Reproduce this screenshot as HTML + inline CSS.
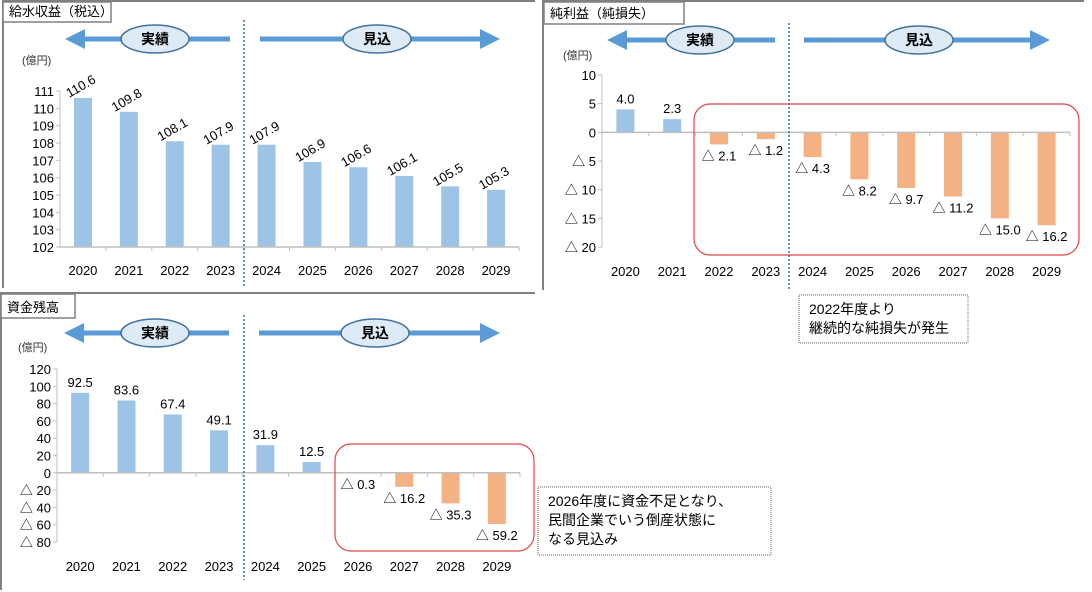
<!DOCTYPE html>
<html><head><meta charset="utf-8">
<style>
body{margin:0;background:#fff;}
svg{display:block;font-family:"Liberation Sans","Noto Sans CJK JP",sans-serif;}
</style></head>
<body>
<svg id="s" width="1092" height="592" viewBox="0 0 1092 592" xmlns="http://www.w3.org/2000/svg">
<defs>
<marker id="ah" markerWidth="4" markerHeight="4" refX="2" refY="2" orient="auto" markerUnits="strokeWidth"><path d="M0,0 L4,2 L0,4 Z" fill="#5b9bd5"/></marker>
</defs>
</svg>
<script>
const years = ["2020","2021","2022","2023","2024","2025","2026","2027","2028","2029"];
const revenueValues = [110.6,109.8,108.1,107.9,107.9,106.9,106.6,106.1,105.5,105.3];
const revenueTicks = [102,103,104,105,106,107,108,109,110,111];
const profitValues = [4.0,2.3,-2.1,-1.2,-4.3,-8.2,-9.7,-11.2,-15.0,-16.2];
const profitTicks = [10,5,0,-5,-10,-15,-20];
const fundValues = [92.5,83.6,67.4,49.1,31.9,12.5,-0.3,-16.2,-35.3,-59.2];
const fundTicks = [120,100,80,60,40,20,0,-20,-40,-60,-80];

const svg = document.getElementById('s');
const NS = 'http://www.w3.org/2000/svg';
function mk(tag, attrs, parent, text){
  const e = document.createElementNS(NS, tag);
  for (const k in attrs) e.setAttribute(k, attrs[k]);
  if (text !== undefined) e.textContent = text;
  (parent || svg).appendChild(e);
  return e;
}
function fmt(v, dec){
  const a = Math.abs(v).toFixed(dec);
  return v < 0 ? '△ ' + a : a;
}

function chart(cfg){
  const g = mk('g', {});
  
  
  // frame
  const fr = mk('path', {d:`M${cfg.frame[0]},${cfg.frame[3]} L${cfg.frame[0]},${cfg.frame[1]} L${cfg.frame[2]},${cfg.frame[1]}`, fill:'none', stroke:'#808080', 'stroke-width':2}, g);
  
  
  // title box
  const tb = cfg.titleBox;
  const tr = mk('rect', {x:tb[0], y:tb[1], width:tb[2]-tb[0], height:tb[3]-tb[1], fill:'#fff', stroke:'#808080', 'stroke-width':1.5}, g);
  
  
  const tt = mk('text', {x:tb[0]+6, y:tb[3]-6, 'font-size':13, fill:'#000'}, g, cfg.title);
  
  
  // arrows
  const ay = cfg.arrowY;
  const la = mk('line', {x1:cfg.leftArrow[1], y1:ay, x2:cfg.leftArrow[0]+8, y2:ay, stroke:'#5b9bd5', 'stroke-width':5, 'marker-end':'url(#ah)'}, g);
  
  
  const ra = mk('line', {x1:cfg.rightArrow[0], y1:ay, x2:cfg.rightArrow[1]-8, y2:ay, stroke:'#5b9bd5', 'stroke-width':5, 'marker-end':'url(#ah)'}, g);
  
  
  [[cfg.leftArrow[2],'実績','actual-label'],[cfg.rightArrow[2],'見込','forecast-label']].forEach(o=>{
    const el = mk('ellipse', {cx:o[0], cy:ay, rx:34, ry:14, fill:'#deebf7', stroke:'#41719c', 'stroke-width':1.5}, g);
    
    
    const t = mk('text', {x:o[0], y:ay+5, 'font-size':14, 'font-weight':'bold', 'text-anchor':'middle', fill:'#000'}, g, o[1]);
    
    
  });
  // unit
  const u = mk('text', {x:cfg.unitPos[0], y:cfg.unitPos[1], 'font-size':11, fill:'#333'}, g, '(億円)');
  
  
  // scales
  const y = v => cfg.yTop + (cfg.vMax - v) * (cfg.yBot - cfg.yTop) / (cfg.vMax - cfg.vMin);
  const slot = (cfg.xEnd - cfg.xAxis) / years.length;
  const x = i => cfg.xAxis + slot * (i + 0.5);
  const base = Math.max(cfg.vMin, Math.min(cfg.vMax, 0));
  // y axis
  const ya = mk('line', {x1:cfg.xAxis, y1:y(cfg.vMax), x2:cfg.xAxis, y2:y(cfg.vMin), stroke:'#bfbfbf', 'stroke-width':1}, g);
  
  
  cfg.ticks.forEach(t=>{
    mk('line', {x1:cfg.xAxis-4, y1:y(t), x2:cfg.xAxis, y2:y(t), stroke:'#bfbfbf'}, g);
    const tl = mk('text', {x:cfg.xAxis-6, y:y(t)+5, 'font-size':cfg.tickFont, 'text-anchor':'end', fill:'#000'}, g, fmt(t, 0));
    
    
  });
  // bars
  cfg.values.forEach((v,i)=>{
    const y0 = y(base), y1 = y(v);
    const r = mk('rect', {x:x(i)-9, y:Math.min(y0,y1), width:18, height:Math.abs(y1-y0), fill: v<0 ? '#f4b183' : '#9dc3e6'}, g);
    
    
    let lx = x(i), ly;
    let attrs;
    if (cfg.rotate) {
      ly = y1 - 8;
      attrs = {x:lx, y:ly, 'font-size':13, 'text-anchor':'middle', fill:'#000', transform:`rotate(-30 ${lx} ${ly})`};
    } else {
      ly = v < 0 ? y1 + 16 : y1 - 6;
      attrs = {x:lx, y:ly, 'font-size':13, 'text-anchor':'middle', fill:'#000'};
    }
    const dl = mk('text', attrs, g, fmt(v, 1));
    
    
    const xl = mk('text', {x:x(i), y:cfg.yearY, 'font-size':13, 'text-anchor':'middle', fill:'#000'}, g, years[i]);
    
    
    mk('line', {x1:cfg.xAxis+slot*(i+1), y1:y(base), x2:cfg.xAxis+slot*(i+1), y2:y(base)+4, stroke:'#bfbfbf'}, g);
  });
  const xa = mk('line', {x1:cfg.xAxis, y1:y(base), x2:cfg.xEnd, y2:y(base), stroke:'#bfbfbf', 'stroke-width':1.5}, g);
  
  
  // divider
  const dv = mk('line', {x1:cfg.divider[0], y1:cfg.divider[1], x2:cfg.divider[0], y2:cfg.divider[2], stroke:'#2e75b6', 'stroke-width':1.5, 'stroke-dasharray':'2,2'}, g);
  
  
  if (cfg.redBox) {
    const b = cfg.redBox;
    const rb = mk('rect', {x:b[0], y:b[1], width:b[2]-b[0], height:b[3]-b[1], rx:16, fill:'none', stroke:'#e0444a', 'stroke-width':1.2}, g);
    
    
  }
  if (cfg.note) {
    const n = cfg.note;
    const nb = mk('rect', {x:n[0], y:n[1], width:n[2]-n[0], height:n[3]-n[1], fill:'#fff', stroke:'#666', 'stroke-width':1, 'stroke-dasharray':'1,1'}, g);
    
    
    cfg.noteLines.forEach((l,k)=>{
      const t = mk('text', {x:n[0]+10, y:n[1]+19+k*19, 'font-size':14, fill:'#000'}, g, l);
      
      
    });
  }
}

chart({name:'water-revenue-chart', title:'給水収益（税込）', frame:[3,1,535,288], titleBox:[3,2,111,22],
  arrowY:39, leftArrow:[67,230,155], rightArrow:[260,498,377], unitPos:[22,64],
  values:revenueValues, ticks:revenueTicks, vMin:102, vMax:111, yTop:91, yBot:247,
  xAxis:60, xEnd:519, yearY:275, divider:[244,20,288], rotate:true, tickFont:13});

chart({name:'net-profit-chart', title:'純利益（純損失）', frame:[543,1,1084,290], titleBox:[544,2,684,24],
  arrowY:40, leftArrow:[609,775,700], rightArrow:[804,1048,919], unitPos:[563,59],
  values:profitValues, ticks:profitTicks, vMin:-20, vMax:10, yTop:75, yBot:247,
  xAxis:602, xEnd:1070, yearY:276, divider:[789,23,290], rotate:false, tickFont:13,
  redBox:[694,104,1079,255], note:[799,295,968,343], noteLines:['2022年度より','継続的な純損失が発生']});

chart({name:'fund-balance-chart', title:'資金残高', frame:[1,293,535,590], titleBox:[1,294,75,318],
  arrowY:333, leftArrow:[66,229,155], rightArrow:[259,498,375], unitPos:[18,351],
  values:fundValues, ticks:fundTicks, vMin:-80, vMax:120, yTop:369, yBot:542,
  xAxis:57, xEnd:520, yearY:571, divider:[244,315,580], rotate:false, tickFont:13,
  redBox:[335,444,534,551], note:[538,487,771,555], noteLines:['2026年度に資金不足となり、','民間企業でいう倒産状態に','なる見込み']});
</script>
</body></html>
